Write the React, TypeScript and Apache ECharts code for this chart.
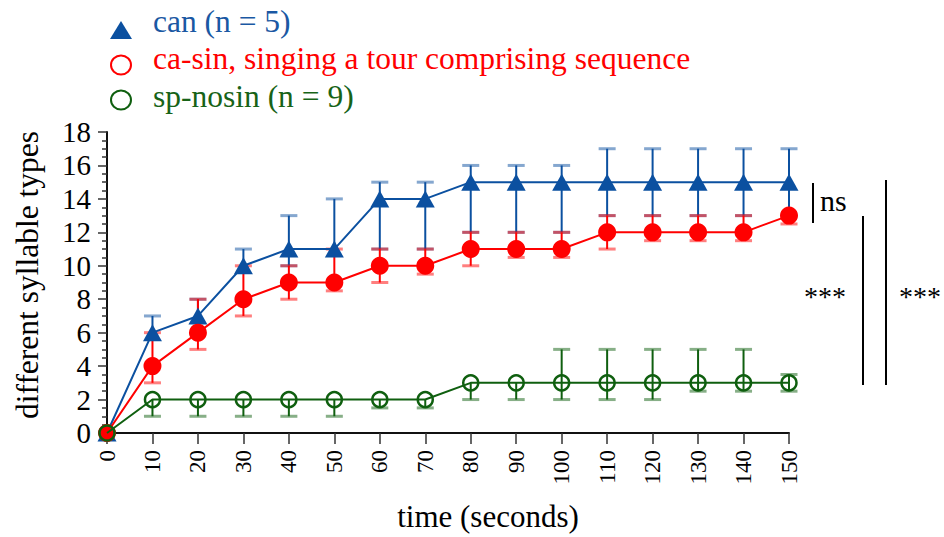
import React, { useEffect, useRef } from "react";
import * as echarts from "echarts";

const times = [0, 10, 20, 30, 40, 50, 60, 70, 80, 90, 100, 110, 120, 130, 140, 150];

const canMean = [0, 6, 7, 10, 11, 11, 14, 14, 15, 15, 15, 15, 15, 15, 15, 15];
const canLow = [0, 6, 7, 10, 10, 11, 11, 11, 12, 12, 12, 13, 13, 13, 13, 13];
const canHigh = [0, 7, 8, 11, 13, 14, 15, 15, 16, 16, 16, 17, 17, 17, 17, 17];

const casinMean = [0, 4, 6, 8, 9, 9, 10, 10, 11, 11, 11, 12, 12, 12, 12, 13];
const casinLow = [0, 3, 5, 7, 8, 8.5, 9, 9.5, 10, 10.5, 10.5, 11, 11.5, 11.5, 11.5, 12.5];
const casinHigh = [0, 6, 8, 10, 10, 11, 11, 11, 12, 12, 12, 13, 13, 13, 13, 13];

const nosinMean = [0, 2, 2, 2, 2, 2, 2, 2, 3, 3, 3, 3, 3, 3, 3, 3];
const nosinLow = [0, 1, 1, 1, 1, 1, 1.5, 1.5, 2, 2, 2, 2, 2, 2.5, 2.5, 2.5];
const nosinHigh = [0, 2, 2, 2, 2, 2, 2, 2, 3, 3, 5, 5, 5, 5, 5, 3.5];

const legendLabels = [
  "can (n = 5)",
  "ca-sin, singing a tour comprising sequence",
  "sp-nosin (n = 9)",
];
const xTitle = "time (seconds)";
const yTitle = "different syllable types";
const sigLabels = ["ns", "***", "***"];

const BLUE = "#0b50a0";
const RED = "#ff0000";
const GREEN = "#0f5f0f";
const FONT = "Liberation Serif";

function errorSeries(mean: number[], low: number[], high: number[], color: string, z: number) {
  return {
    type: "custom",
    z,
    clip: false,
    data: times.map((t, i) => [t, low[i], high[i], mean[i]]),
    encode: { x: 0, y: [1, 2] },
    renderItem: (params: any, api: any) => {
      const x = api.value(0);
      const lo = api.value(1);
      const hi = api.value(2);
      const m = api.value(3);
      const pLo = api.coord([x, lo]);
      const pHi = api.coord([x, hi]);
      const children: any[] = [];
      if (hi > lo) {
        children.push({
          type: "line",
          shape: { x1: pLo[0], y1: pLo[1], x2: pHi[0], y2: pHi[1] },
          style: { stroke: color, lineWidth: 2 },
        });
      }
      const hw = 8.5;
      if (lo < m) {
        children.push({
          type: "line",
          shape: { x1: pLo[0] - hw, y1: pLo[1], x2: pLo[0] + hw, y2: pLo[1] },
          style: { stroke: color, lineWidth: 3, opacity: 0.5 },
        });
      }
      if (hi > m) {
        children.push({
          type: "line",
          shape: { x1: pHi[0] - hw, y1: pHi[1], x2: pHi[0] + hw, y2: pHi[1] },
          style: { stroke: color, lineWidth: 3, opacity: 0.5 },
        });
      }
      return { type: "group", children };
    },
  };
}

function txt(x: number, y: number, text: string, size: number, fill: string, align: string, extra: any = {}) {
  return {
    type: "text",
    x,
    y,
    ...extra,
    style: { text, fill, fontSize: size, fontFamily: FONT, align, verticalAlign: "middle" },
  };
}

export default function App() {
  const ref = useRef<HTMLDivElement>(null);
  useEffect(() => {
    if (!ref.current) return;
    const chart = echarts.init(ref.current, null, { renderer: "svg" });
    const option: any = {
      animation: false,
      backgroundColor: "#fff",
      textStyle: { fontFamily: FONT },
      grid: { left: 107, top: 132, width: 682, height: 301, outerBoundsMode: "none" },
      xAxis: {
        type: "value",
        min: 0,
        max: 150,
        interval: 10,
        axisLine: { show: true, lineStyle: { color: "#111", width: 2 } },
        axisTick: { show: true, length: 11, lineStyle: { color: "#333", width: 1.5 } },
        axisLabel: { rotate: 90, fontSize: 23, fontFamily: FONT, color: "#000", margin: 17 },
        splitLine: { show: false },
      },
      yAxis: {
        type: "value",
        min: 0,
        max: 18,
        interval: 2,
        axisLine: { show: true, onZero: false, lineStyle: { color: "#111", width: 2 } },
        axisTick: { show: true, length: 9, lineStyle: { color: "#333", width: 1.5 } },
        minorTick: { show: true, splitNumber: 4, length: 5, lineStyle: { color: "#333", width: 1.5 } },
        axisLabel: { fontSize: 29, fontFamily: FONT, color: "#000", margin: 16 },
        splitLine: { show: false },
      },
      series: [
        errorSeries(canMean, canLow, canHigh, BLUE, 1),
        errorSeries(casinMean, casinLow, casinHigh, RED, 1),
        errorSeries(nosinMean, nosinLow, nosinHigh, GREEN, 1),
        {
          type: "line",
          name: legendLabels[0],
          z: 3,
          data: times.map((t, i) => [t, canMean[i]]),
          symbol: "triangle",
          symbolSize: [19, 17],
          itemStyle: { color: BLUE },
          lineStyle: { color: BLUE, width: 2 },
        },
        {
          type: "line",
          name: legendLabels[1],
          z: 4,
          data: times.map((t, i) => [t, casinMean[i]]),
          symbol: "circle",
          symbolSize: 18,
          itemStyle: { color: RED },
          lineStyle: { color: RED, width: 2 },
        },
        {
          type: "line",
          name: legendLabels[2],
          z: 5,
          data: times.map((t, i) => [t, nosinMean[i]]),
          symbol: "circle",
          symbolSize: 15,
          itemStyle: { color: "rgba(0,0,0,0)", borderColor: GREEN, borderWidth: 2.5 },
          lineStyle: { color: GREEN, width: 2 },
        },
      ],
      graphic: [
        { type: "polygon", shape: { points: [[110, 39], [132, 39], [121, 21]] }, style: { fill: BLUE } },
        { type: "ellipse", shape: { cx: 121, cy: 65, rx: 10, ry: 9.5 }, style: { fill: "none", stroke: RED, lineWidth: 2 } },
        { type: "ellipse", shape: { cx: 121, cy: 100, rx: 10, ry: 9.5 }, style: { fill: "none", stroke: GREEN, lineWidth: 2 } },
        txt(153, 21, legendLabels[0], 31.5, "#1a58a3", "left"),
        txt(153, 58, legendLabels[1], 31.5, RED, "left"),
        txt(153, 96, legendLabels[2], 31.5, "#176317", "left"),
        txt(488, 516, xTitle, 31, "#000", "center"),
        txt(27, 275, yTitle, 31.5, "#000", "center", { rotation: Math.PI / 2 }),
        { type: "line", shape: { x1: 813, y1: 183, x2: 813, y2: 223 }, style: { stroke: "#000", lineWidth: 2 } },
        { type: "line", shape: { x1: 863, y1: 216, x2: 863, y2: 385 }, style: { stroke: "#000", lineWidth: 2 } },
        { type: "line", shape: { x1: 886, y1: 180, x2: 886, y2: 385 }, style: { stroke: "#000", lineWidth: 2 } },
        txt(820, 200, sigLabels[0], 30, "#000", "left"),
        txt(825, 296, sigLabels[1], 28, "#000", "center"),
        txt(920, 296, sigLabels[2], 28, "#000", "center"),
      ],
    };
    chart.setOption(option);
    return () => chart.dispose();
  }, []);
  return <div ref={ref} style={{ position: "fixed", left: 0, top: 0, width: 944, height: 537 }} />;
}
